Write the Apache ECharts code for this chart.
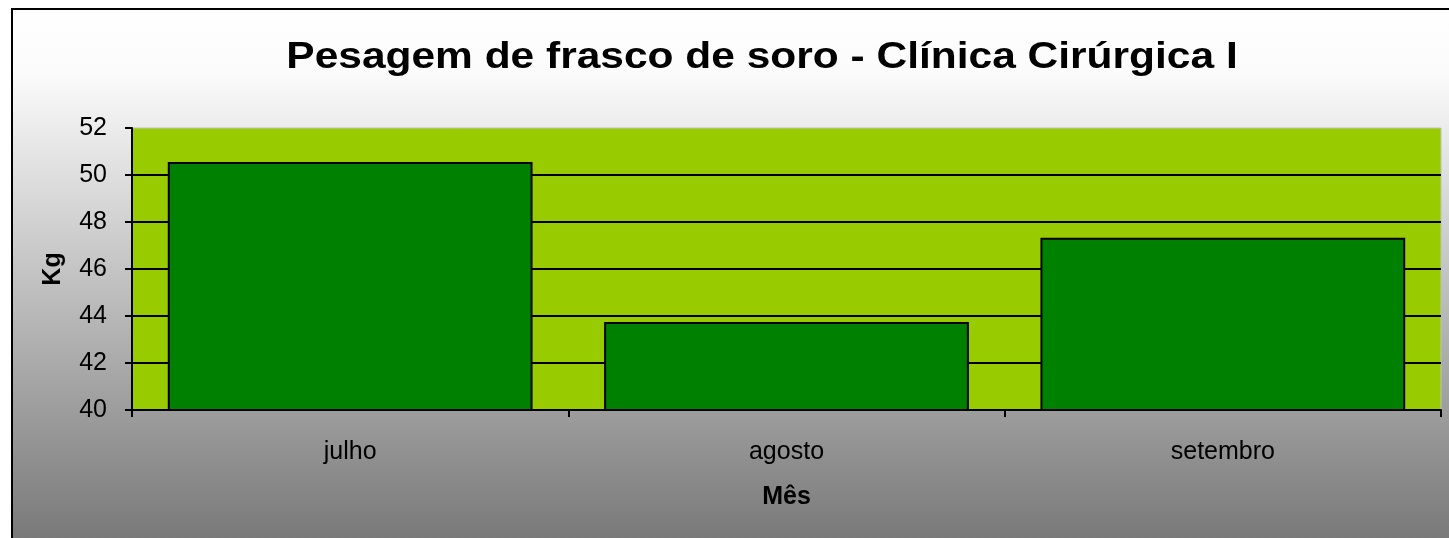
<!DOCTYPE html>
<html>
<head>
<meta charset="utf-8">
<script src="https://cdn.jsdelivr.net/npm/echarts@6/dist/echarts.min.js"></script>
<style>
  html, body { margin: 0; padding: 0; background: #fff; }
  #chart { width: 1449px; height: 538px; }
</style>
</head>
<body>
<div id="chart"></div>
<script>
  // dados do gráfico
  const titulo = "Pesagem de frasco de soro - Clínica Cirúrgica I"
  const meses = ["julho", "agosto", "setembro"]
  const pesoKg = [50.55, 43.75, 47.33]
  const yTicks = { min: 40, max: 52, interval: 2 }

  const chart = echarts.init(document.getElementById("chart"))
  const font = "'Liberation Sans', Arial, sans-serif"

  const option = {
    backgroundColor: "#fff",
    animation: false,
    textStyle: { fontFamily: font },
    graphic: [
      {
        type: "rect",
        z: -10,
        shape: { x: 12, y: 9, width: 1460, height: 540 },
        style: {
          fill: new echarts.graphic.LinearGradient(0, 0, 0, 1, [
            { offset: 0, color: "#ffffff" },
            { offset: 0.12, color: "#fbfbfb" },
            { offset: 1, color: "#767676" },
          ]),
          stroke: "#000",
          lineWidth: 2,
        },
      },
      {
        // título esticado na horizontal como no original
        type: "text",
        x: 762,
        y: 40,
        scaleX: 1.18,
        style: {
          text: titulo,
          fontFamily: font,
          fontSize: 36,
          fontWeight: "bold",
          fill: "#000",
          align: "center",
          verticalAlign: "top",
        },
      },
    ],
    grid: {
      left: 132,
      top: 128,
      right: 8,
      bottom: 128,
      show: true,
      backgroundColor: "#99CC00",
      borderColor: "#c0c0c0",
      borderWidth: 1,
    },
    xAxis: {
      type: "category",
      data: meses,
      name: "Mês",
      nameLocation: "middle",
      nameGap: 75,
      nameTextStyle: { fontSize: 25, fontWeight: "bold", color: "#000" },
      axisLine: { lineStyle: { color: "#000", width: 2 } },
      axisTick: { show: true, length: 7, lineStyle: { color: "#000", width: 2 } },
      axisLabel: { fontSize: 25, color: "#000", margin: 30 },
    },
    yAxis: {
      type: "value",
      min: yTicks.min,
      max: yTicks.max,
      interval: yTicks.interval,
      name: "Kg",
      nameLocation: "middle",
      nameGap: 66,
      nameTextStyle: { fontSize: 25, fontWeight: "bold", color: "#000" },
      axisLine: { show: true, lineStyle: { color: "#000", width: 2 } },
      axisTick: { show: true, length: 7, lineStyle: { color: "#000", width: 2 } },
      axisLabel: { fontSize: 25, color: "#000", margin: 25, padding: [6, 0, 0, 0] },
      splitLine: {
        show: true,
        showMinLine: false,
        showMaxLine: false,
        lineStyle: { color: "#000", width: 2 },
      },
    },
    series: [
      {
        type: "bar",
        data: pesoKg,
        barWidth: "83.6%",
        itemStyle: {
          color: "#008000",
          borderColor: "#000",
          borderWidth: 2,
        },
      },
    ],
  }
  chart.setOption(option)
</script>
</body>
</html>
